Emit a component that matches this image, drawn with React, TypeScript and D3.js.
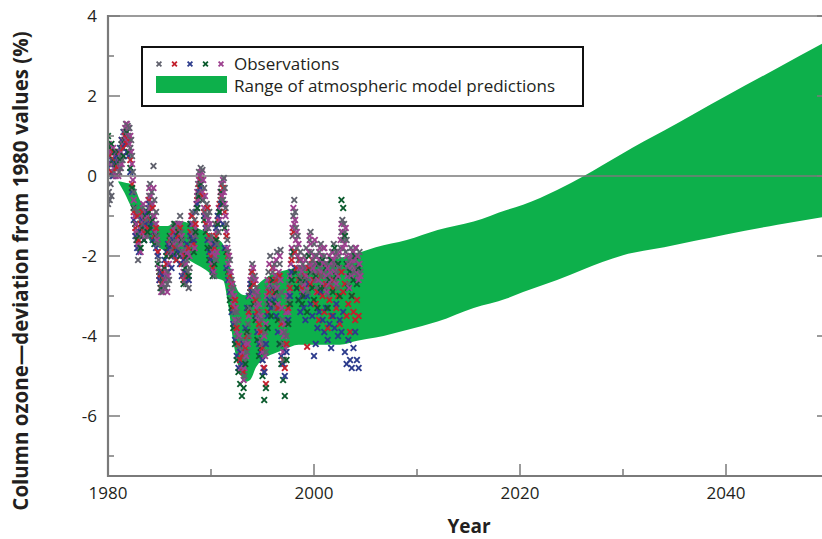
import React from "react";
import * as d3 from "d3";

// ---------- Data ----------
const bandYears = [1981.0, 1981.6, 1982.4, 1983.1, 1984, 1985, 1985.8, 1986.6, 1987.5, 1988.5, 1989.5, 1990.5, 1991.2, 1991.6, 1992.2, 1992.7, 1993.3, 1993.8, 1994.4, 1995.2, 1996, 1997, 1998.5, 2000, 2002.5, 2004.2, 2006, 2009, 2012, 2015.5, 2018.7, 2020.3, 2023.6, 2026.2, 2028, 2030, 2032, 2034, 2037, 2040, 2045, 2050];
const bandUpper = [-0.13, -0.16, -0.22, -0.6, -0.95, -1.25, -1.25, -1.12, -1.15, -1.28, -1.4, -1.55, -1.72, -2.05, -2.6, -2.9, -2.98, -2.93, -2.75, -2.57, -2.45, -2.37, -2.28, -2.2, -2.05, -1.93, -1.78, -1.6, -1.35, -1.14, -0.85, -0.72, -0.35, 0.0, 0.27, 0.57, 0.86, 1.14, 1.57, 2.0, 2.7, 3.4];
const bandLower = [-0.15, -0.42, -0.85, -1.14, -1.6, -1.8, -1.9, -1.95, -2.05, -2.2, -2.35, -2.55, -2.62, -3.1, -4.2, -4.8, -5.15, -5.1, -4.77, -4.55, -4.45, -4.35, -4.22, -4.22, -4.22, -4.12, -4.04, -3.85, -3.64, -3.3, -3.06, -2.9, -2.6, -2.33, -2.15, -1.98, -1.87, -1.78, -1.62, -1.46, -1.22, -1.0];

// Observations (monthly: start 1980.0, step 1/12 yr)
const grayObs = [
  -0.7, -0.4, -0.6, -0.2, -0.5, 0.0, 0.3, 0.1, 0.5, 0.2, 0.4, 0.6,
  0.3, 0.1, 0.5, 0.2, 0.7, 0.4, 0.9, 1.1, 0.8, 1.3, 1.1, 1.25,
  1.0, 1.2, 0.7, 0.9, 0.5, 0.1, -0.4, -0.8, -1.2, -1.6, -0.9, -2.1,
  -1.4, -1.8, -1.1, -1.5, -0.8, -1.2, -1.6, -0.9, -1.3, -1.1, -1.5, -0.8,
  -0.5, -0.2, -0.7, -0.4, -1.0, 0.25, -0.6, -1.2, -0.9, -1.5, -1.7, -2.1,
  -2.5, -2.8, -2.4, -2.7, -2.9, -2.6, -2.3, -2.8, -2.5, -2.7, -2.4, -2.6,
  -1.9, -1.6, -2.0, -1.4, -1.8, -1.2, -1.6, -2.1, -1.5, -1.8, -1.3, -1.7,
  -1.0, -1.4, -1.9, -1.6, -2.2, -2.5, -1.8, -2.7, -2.1, -2.4, -2.8, -2.3,
  -1.2, -1.6, -0.9, -1.4, -1.8, -1.1, -1.5, -0.9, -0.5, -0.2, 0.1, -0.4,
  0.2, -0.1, 0.15, -0.6, -0.3, -0.9, -1.2, -0.7, -1.0, -1.3, -0.9, -1.6,
  -2.0, -1.5, -2.3, -1.8, -2.5, -1.2, -2.1, -1.7, -1.0, -1.4, -0.9, -0.6,
  -0.4, -0.2, -0.6, -0.05, -0.3, -0.8, -1.2, -1.6, -1.9, -2.4, -2.1, -2.8,
  -2.6, -3.0, -2.8, -3.4, -3.1, -3.7, -3.4, -4.0, -3.6, -4.3, -4.6, -4.1,
  -4.5, -4.9, -4.3, -5.0, -4.6, -4.1, -4.4, -3.7, -4.0, -3.3, -2.8, -2.4,
  -2.2, -2.6, -2.9, -2.5, -3.2, -2.8, -3.5, -3.0, -3.8, -3.4, -4.1, -3.6,
  -4.6, -4.2, -4.9, -3.9, -4.4, -3.2, -2.8, -2.4, -3.1, -2.0, -2.6, -3.0,
  -2.4, -2.8, -2.2, -3.3, -2.7, -1.9, -2.5, -3.0, -2.2, -1.85, -2.9, -3.6,
  -4.2, -4.6, -3.9, -3.4, -4.0, -3.6, -3.1, -2.7, -3.2, -2.4, -2.0, -1.5,
  -1.0, -0.6, -0.9, -1.3, -1.8, -1.5, -2.1, -2.5, -1.9, -2.3, -2.7, -2.2,
  -2.5, -2.0, -2.3, -1.8, -2.6, -2.9, -2.2, -1.6, -1.4, -1.9, -2.4, -2.1,
  -1.7, -2.2, -2.6, -2.0, -2.8, -2.4, -1.9, -2.3, -1.7, -2.5, -2.1, -1.8,
  -2.0, -2.4, -2.8, -2.2, -2.6, -3.0, -2.5, -2.1, -2.7, -1.9, -2.3, -1.7,
  -2.2, -2.6, -1.9, -2.4, -2.8, -2.0, -2.3, -1.8, -1.4, -1.1, -1.6, -1.2,
  -1.4, -1.9, -1.6, -2.3, -2.7, -2.1, -2.5, -1.8, -2.2, -1.9, -2.4, -2.0,
  -1.8, -2.3, -2.0, -2.5, -2.2, -1.9, -2.4,
];
const purpleObs = [
  0.5, 0.8, 0.3, 0.6, 0.1, 0.4, 0.7, 0.2, 0.5, 0.0, 0.3, 0.6,
  0.0, 0.4, 0.2, 0.6, 0.3, 0.8, 0.5, 1.0, 1.2, 0.9, 1.3, 1.0,
  1.2, 0.8, 1.0, 0.6, 0.3, -0.1, -0.6, -1.0, -1.4, -1.2, -1.7, -1.4,
  -1.7, -1.3, -1.9, -1.0, -1.4, -0.7, -1.1, -1.5, -0.9, -1.3, -1.0, -0.6,
  -0.3, -0.8, -0.5, -1.1, -0.7, -0.3, -1.0, -1.4, -1.2, -1.6, -1.9, -2.3,
  -2.6, -2.4, -2.9, -2.5, -2.7, -2.3, -2.8, -2.6, -2.4, -2.9, -2.5, -2.2,
  -1.7, -2.0, -1.5, -1.9, -1.3, -1.7, -2.0, -1.4, -1.9, -1.2, -1.6, -2.0,
  -1.2, -1.7, -1.5, -2.0, -2.4, -1.9, -2.6, -2.2, -2.5, -1.9, -2.6, -2.0,
  -1.5, -1.0, -1.7, -1.2, -1.5, -1.8, -1.3, -0.7, -0.4, -0.6, -0.1, 0.0,
  -0.2, 0.1, -0.4, -0.1, -0.8, -0.5, -1.0, -1.3, -0.8, -1.1, -1.5, -1.2,
  -1.7, -2.2, -1.9, -2.4, -1.6, -2.0, -1.4, -1.9, -1.2, -0.8, -1.1, -0.4,
  -0.2, -0.5, -0.1, -0.4, -0.7, -1.0, -1.4, -1.8, -2.2, -2.0, -2.6, -2.4,
  -2.9, -2.7, -3.2, -3.0, -3.6, -3.3, -3.9, -3.6, -4.2, -4.0, -4.4, -4.8,
  -4.7, -4.4, -5.1, -4.8, -4.2, -4.5, -3.9, -4.2, -3.5, -3.0, -2.6, -2.9,
  -2.5, -2.3, -2.7, -3.0, -2.6, -3.3, -2.9, -3.6, -3.2, -3.9, -3.5, -4.2,
  -4.4, -4.8, -4.0, -4.5, -3.7, -3.0, -2.6, -2.9, -2.2, -2.7, -3.2, -2.8,
  -2.6, -2.3, -3.0, -2.5, -2.1, -2.8, -3.2, -2.4, -2.0, -2.6, -3.3, -3.9,
  -4.4, -4.0, -3.7, -4.3, -3.4, -3.0, -3.4, -2.9, -2.5, -2.2, -1.8, -1.3,
  -0.8, -1.2, -1.1, -1.6, -1.4, -2.0, -1.7, -2.3, -2.6, -2.1, -2.4, -2.9,
  -2.3, -2.7, -2.1, -2.5, -2.8, -2.3, -1.9, -1.5, -1.7, -2.2, -2.6, -2.3,
  -2.0, -1.6, -2.4, -2.9, -2.2, -2.6, -2.1, -1.8, -2.4, -2.0, -2.7, -2.2,
  -1.8, -2.2, -2.5, -2.9, -2.3, -2.7, -2.0, -2.4, -2.2, -2.6, -1.9, -2.1,
  -2.4, -2.0, -2.7, -2.2, -2.5, -2.3, -1.9, -1.6, -1.2, -1.4, -1.8, -1.5,
  -1.7, -1.3, -2.0, -2.5, -2.2, -2.8, -2.3, -2.0, -2.5, -2.1, -1.9, -2.3,
  -2.1, -1.8, -2.4, -2.0, -2.6, -2.2, -2.5,
];
// Observations (bimonthly: start 1980.0, step 1/6 yr)
const redObs = [
  0.3, 0.5, 0.1, 0.6, 0.4, 0.2,
  0.2, 0.6, 0.9, 0.7, 1.0, 0.8,
  0.9, 0.4, -0.2, -0.9, -1.3, -1.0,
  -1.6, -1.2, -0.9, -1.4, -1.1, -1.3,
  -0.6, -1.1, -0.8, -1.5, -1.3, -1.9,
  -2.5, -2.7, -2.4, -2.6, -2.2, -1.9,
  -1.6, -2.0, -1.4, -1.8, -2.1, -1.5,
  -1.3, -2.2, -2.6, -2.0, -2.5, -1.8,
  -1.4, -1.0, -1.7, -1.2, -0.6, -0.3,
  -0.1, -0.5, -0.9, -1.2, -0.8, -1.5,
  -2.0, -2.3, -1.8, -1.5, -1.1, -0.7,
  -0.5, -0.3, -0.9, -1.5, -2.0, -2.5,
  -2.7, -3.3, -3.1, -3.8, -4.2, -4.6,
  -4.5, -4.9, -4.3, -4.0, -3.4, -2.8,
  -2.4, -2.7, -3.1, -3.4, -3.7, -3.9,
  -4.3, -4.8, -5.2, -3.4, -2.9, -2.6,
  -2.3, -2.9, -2.6, -3.3, -2.5, -3.7,
  -4.6, -4.8, -4.2, -3.3, -2.8, -2.1,
  -1.4, -1.9, -2.3, -2.6, -2.1, -2.8,
  -3.0, -2.5, -4.27, -2.3, -2.7, -2.1,
  -2.6, -3.2, -2.9, -3.6, -2.5, -3.0,
  -3.4, -2.7, -3.8, -3.1, -3.5, -2.8,
  -2.6, -3.3, -3.0, -3.7, -2.4, -2.9,
  -2.7, -3.5, -3.2, -3.9, -3.0, -3.4,
  -3.6, -3.1, -3.5,
];
const blueObs = [
  0.2, 0.6, 0.4, 0.0, 0.3, 0.5,
  0.4, 0.7, 0.9, 1.1, 0.8, 0.6,
  0.5, 0.1, -0.4, -1.1, -1.5, -1.8,
  -1.9, -1.4, -1.1, -1.6, -1.2, -0.9,
  -0.7, -1.2, -1.6, -1.4, -1.8, -2.0,
  -2.6, -2.4, -2.5, -2.1, -1.9, -1.7,
  -1.8, -2.3, -1.6, -2.0, -1.5, -1.9,
  -2.2, -2.5, -2.1, -2.4, -1.7, -2.6,
  -1.5, -1.2, -1.6, -0.9, -0.7, -0.4,
  -0.3, -0.6, -1.0, -1.3, -1.6, -1.9,
  -2.1, -2.4, -1.7, -1.3, -1.0, -0.9,
  -0.7, -1.2, -1.8, -2.3, -2.6, -2.9,
  -3.4, -3.7, -4.1, -4.5, -4.8, -4.4,
  -4.7, -4.2, -3.8, -3.3, -3.0, -2.7,
  -2.9, -3.2, -3.5, -3.9, -4.2, -4.4,
  -4.6, -4.9, -4.2, -3.5, -3.1, -3.3,
  -2.8, -3.1, -3.5, -3.9, -4.2, -4.5,
  -4.7, -5.0, -4.4, -3.6, -3.0, -2.4,
  -1.9, -2.3, -2.8, -3.1, -3.4, -3.0,
  -3.3, -3.6, -3.0, -2.7, -3.2, -3.5,
  -4.5, -4.2, -3.8, -3.4, -2.9, -3.6,
  -3.9, -3.3, -4.1, -3.7, -4.3, -3.5,
  -3.8, -3.2, -4.0, -3.6, -3.9, -3.4,
  -4.4, -4.7, -4.1, -4.6, -4.8, -4.3,
  -3.9, -4.6, -4.8,
];
const greenObs = [
  1.0, 0.7, 0.8, 0.4, 0.6, 0.3,
  0.6, 0.4, 0.8, 0.5, 0.9, 1.1,
  0.6, 0.2, -0.3, -0.8, -1.2, -1.6,
  -1.5, -1.8, -1.3, -1.6, -1.0, -1.4,
  -0.9, -1.3, -1.1, -1.7, -1.5, -2.2,
  -2.4, -2.8, -2.6, -2.3, -2.0, -1.8,
  -1.5, -2.0, -1.7, -1.2, -1.9, -1.4,
  -2.0, -1.6, -2.7, -2.3, -2.0, -2.5,
  -1.2, -1.6, -1.9, -1.4, -0.8, -0.5,
  -0.2, -0.6, -1.1, -1.4, -1.8, -2.1,
  -1.8, -2.5, -2.2, -1.6, -1.2, -0.9,
  -0.4, -0.7, -1.3, -1.9, -2.4, -3.1,
  -3.3, -3.8, -4.2, -4.6, -4.9, -5.2,
  -5.5, -5.3, -4.7, -3.9, -3.3, -2.9,
  -2.7, -3.2, -3.6, -4.1, -4.5, -4.3,
  -5.0, -5.6, -5.3, -3.8, -3.2, -3.5,
  -2.6, -3.2, -2.9, -3.6, -4.2, -4.7,
  -5.1, -5.5, -4.6, -3.7, -3.2, -2.6,
  -1.9, -2.4, -2.8, -3.1, -2.6, -3.2,
  -3.0, -2.6, -3.4, -2.0, -2.4, -2.8,
  -3.1, -2.5, -3.3, -2.2, -2.8, -2.1,
  -2.8, -2.3, -3.3, -2.6, -2.1, -2.9,
  -1.8, -2.5, -2.2, -3.0, -0.6, -0.8,
  -1.5, -2.2, -2.8, -2.4, -3.0, -2.6,
  -2.0, -2.7, -2.3,
];

const obsStart = 1980.0;
const seriesDefs = [
  { name: "gray", values: grayObs, step: 1 / 12, color: "#5f606c" },
  { name: "purple", values: purpleObs, step: 1 / 12, color: "#9c3f8e" },
  { name: "red", values: redObs, step: 1 / 6, color: "#c3202c" },
  { name: "blue", values: blueObs, step: 1 / 6, color: "#2c3b8c" },
  { name: "green", values: greenObs, step: 1 / 6, color: "#0b5b2d" },
];
const legendColors = ["#5f606c", "#c3202c", "#2c3b8c", "#0b5b2d", "#9c3f8e"];

const yMajor = [-6, -4, -2, 0, 2, 4];
const yMinor = [-7, -5, -3, -1, 1, 3];
const xMajor = [1980, 2000, 2020, 2040];
const xMinor = [1990, 2010, 2030];

// ---------- Layout ----------
const W = 822;
const H = 539;
const x = d3.scaleLinear().domain([1980, 2050]).range([108, 829]);
const y = d3.scaleLinear().domain([-7.5, 4]).range([476, 16]);

const FONT = "'Open Sans', 'Noto Sans', sans-serif";
const AXIS = "#7a7a7a";
const BAND = "#0db04b";

function crossPath(cx: number, cy: number, r: number) {
  return `M${cx - r},${cy - r}L${cx + r},${cy + r}M${cx - r},${cy + r}L${cx + r},${cy - r}`;
}

export default function App() {
  const area = d3
    .area<number>()
    .x((_, i) => x(bandYears[i]))
    .y0((_, i) => y(bandLower[i]))
    .y1((_, i) => y(bandUpper[i]))
    .curve(d3.curveMonotoneX);
  const bandPath = area(bandYears) || "";

  // interleave all observation marks by time so colours layer like the original
  const points = seriesDefs
    .flatMap((s) => s.values.map((v, i) => ({ t: obsStart + i * s.step, v, color: s.color, key: s.name + i })))
    .sort((a, b) => a.t - b.t);

  return (
    <svg
      width={W}
      height={H}
      viewBox={`0 0 ${W} ${H}`}
      style={{ position: "absolute", left: 0, top: 0, background: "#fff" }}
      fontFamily={FONT}
    >
      <defs>
        <clipPath id="plot">
          <rect x={108} y={16} width={721} height={460} />
        </clipPath>
      </defs>
      {/* band */}
      <path d={bandPath} fill={BAND} clipPath="url(#plot)" />
      {/* zero line */}
      <line x1={x(1980)} x2={x(2050)} y1={y(0)} y2={y(0)} stroke={AXIS} strokeWidth={1.5} />
      {/* observations */}
      <g clipPath="url(#plot)" fill="none" strokeWidth={1.9}>
        {points.map((p) => (
          <path key={p.key} d={crossPath(x(p.t), y(p.v), 2.8)} stroke={p.color} />
        ))}
      </g>
      {/* frame */}
      <line x1={108} x2={829} y1={16} y2={16} stroke={AXIS} strokeWidth={1.5} />
      <line x1={108} x2={108} y1={15} y2={477} stroke={AXIS} strokeWidth={2.2} />
      <line x1={107} x2={829} y1={476} y2={476} stroke={AXIS} strokeWidth={2.2} />
      <line x1={829} x2={829} y1={16} y2={476} stroke={AXIS} strokeWidth={2.2} />
      {/* y ticks */}
      {yMajor.map((v) => (
        <g key={"ym" + v}>
          <line x1={108} x2={120} y1={y(v)} y2={y(v)} stroke={AXIS} strokeWidth={1.5} />
          <line x1={817} x2={829} y1={y(v)} y2={y(v)} stroke={AXIS} strokeWidth={1.5} />
          <text x={97} y={y(v)} dy="0.35em" textAnchor="end" fontSize={17} fill="#231f20">
            {v}
          </text>
        </g>
      ))}
      {yMinor.map((v) => (
        <g key={"yn" + v}>
          <line x1={108} x2={114} y1={y(v)} y2={y(v)} stroke={AXIS} strokeWidth={1.5} />
          <line x1={823} x2={829} y1={y(v)} y2={y(v)} stroke={AXIS} strokeWidth={1.5} />
        </g>
      ))}
      {/* x ticks */}
      {xMajor.map((v) => (
        <g key={"xm" + v}>
          {v !== 1980 && <line x1={x(v)} x2={x(v)} y1={476} y2={464} stroke={AXIS} strokeWidth={1.5} />}
          <text x={x(v)} y={499} textAnchor="middle" fontSize={17} fill="#231f20">
            {v}
          </text>
        </g>
      ))}
      {xMinor.map((v) => (
        <line key={"xn" + v} x1={x(v)} x2={x(v)} y1={476} y2={469} stroke={AXIS} strokeWidth={1.5} />
      ))}
      {/* axis titles */}
      <text x={469} y={533} textAnchor="middle" fontSize={19} fontWeight={700} fill="#231f20">
        Year
      </text>
      <text
        transform={`translate(28,271) rotate(-90)`}
        textAnchor="middle"
        fontSize={20.5}
        fontWeight={700}
        fill="#231f20"
      >
        Column ozone—deviation from 1980 values (%)
      </text>
      {/* legend */}
      <rect x={142} y={47} width={441} height={59} fill="#fff" stroke="#111" strokeWidth={2} />
      {legendColors.map((c, i) => (
        <path key={"lg" + i} d={crossPath(159 + i * 15.5, 64, 2.4)} stroke={c} strokeWidth={1.8} fill="none" />
      ))}
      <text x={234} y={70} fontSize={17} fill="#231f20">
        Observations
      </text>
      <rect x={156} y={76} width={71} height={17} fill={BAND} />
      <text x={234} y={92} fontSize={17} fill="#231f20">
        Range of atmospheric model predictions
      </text>
    </svg>
  );
}
